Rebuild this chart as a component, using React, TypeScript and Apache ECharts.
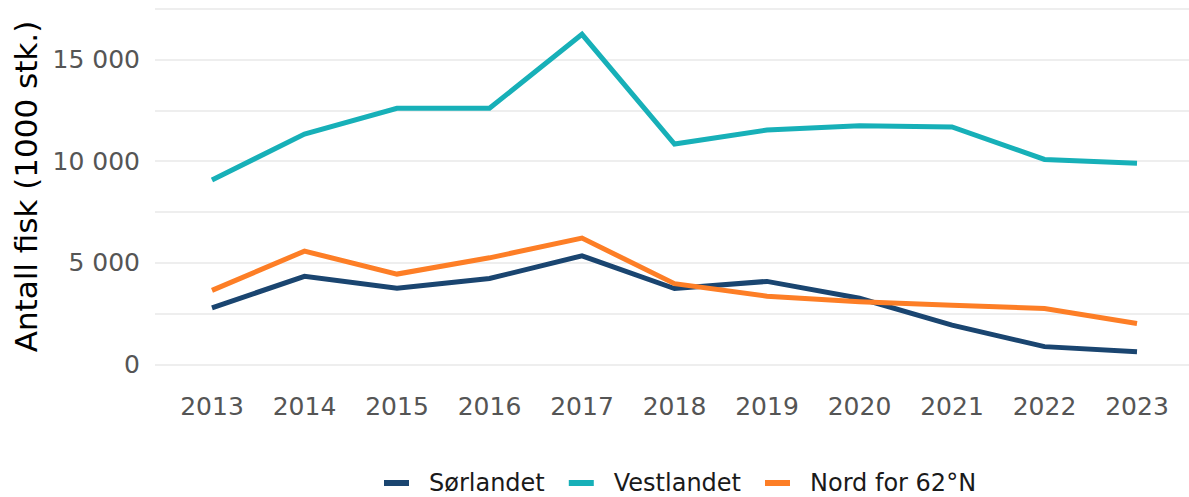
import React, { useEffect, useRef } from "react";
import * as echarts from "echarts";

const years = [2013, 2014, 2015, 2016, 2017, 2018, 2019, 2020, 2021, 2022, 2023];
const sorlandet = [2780, 4330, 3740, 4220, 5340, 3730, 4080, 3250, 1930, 870, 620];
const vestlandet = [9070, 11330, 12600, 12600, 16240, 10840, 11530, 11740, 11680, 10080, 9900];
const nord = [3640, 5570, 4440, 5240, 6210, 3970, 3350, 3080, 2910, 2750, 2010];
const seriesNames = ["Sørlandet", "Vestlandet", "Nord for 62°N"];
const colors = ["#1a4570", "#17b0b8", "#fd7e26"];
const yTitle = "Antall fisk (1000 stk.)";

const FONT = "DejaVu Sans";

function fmt(v: number): string {
  const s = String(Math.round(v));
  return s.replace(/\B(?=(\d{3})+(?!\d))/g, " ");
}

export default function App() {
  const ref = useRef<HTMLDivElement>(null);
  useEffect(() => {
    if (!ref.current) return;
    const chart = echarts.init(ref.current, undefined, { renderer: "svg" });
    const allData = [sorlandet, vestlandet, nord];
    chart.setOption({
      animation: false,
      textStyle: { fontFamily: FONT },
      grid: {
        left: 155,
        right: 0,
        top: 8.7,
        bottom: 132.7,
        containLabel: false,
        outerBoundsMode: "none",
      },
      legend: {
        left: 379,
        top: 466,
        icon: "rect",
        itemWidth: 25,
        itemHeight: 6,
        itemGap: 24,
        textStyle: {
          fontSize: 24,
          color: "#1a1a1a",
          fontFamily: FONT,
          padding: [0, 0, 0, 15],
        },
        data: seriesNames,
      },
      xAxis: {
        type: "value",
        min: 2012.384,
        max: 2023.562,
        axisLine: { show: false },
        axisTick: { show: false },
        splitLine: { show: false },
        axisLabel: {
          customValues: years,
          formatter: (v: number) => String(Math.round(v)),
          fontSize: 25,
          color: "#555555",
          margin: 30,
          fontFamily: FONT,
        },
      },
      yAxis: {
        type: "value",
        min: 0,
        max: 17500,
        interval: 2500,
        name: yTitle,
        nameLocation: "middle",
        nameGap: 113,
        nameTextStyle: { fontSize: 31, color: "#000000", fontFamily: FONT },
        axisLine: { show: false },
        axisTick: { show: false },
        splitLine: { show: true, lineStyle: { color: "#e8e8e8", width: 1.6 } },
        axisLabel: {
          formatter: (v: number) => (v % 5000 === 0 ? fmt(v) : ""),
          fontSize: 25,
          color: "#555555",
          margin: 15,
          fontFamily: FONT,
        },
      },
      series: seriesNames.map((name, i) => ({
        name,
        type: "line",
        data: years.map((y, j) => [y, allData[i][j]]),
        showSymbol: false,
        symbol: "none",
        lineStyle: { width: 5, color: colors[i], cap: "butt", join: "miter" },
        itemStyle: { color: colors[i] },
      })),
    });
    return () => chart.dispose();
  }, []);
  return (
    <div
      ref={ref}
      style={{ position: "fixed", left: 0, top: 0, width: 1189, height: 497, background: "#ffffff" }}
    />
  );
}
